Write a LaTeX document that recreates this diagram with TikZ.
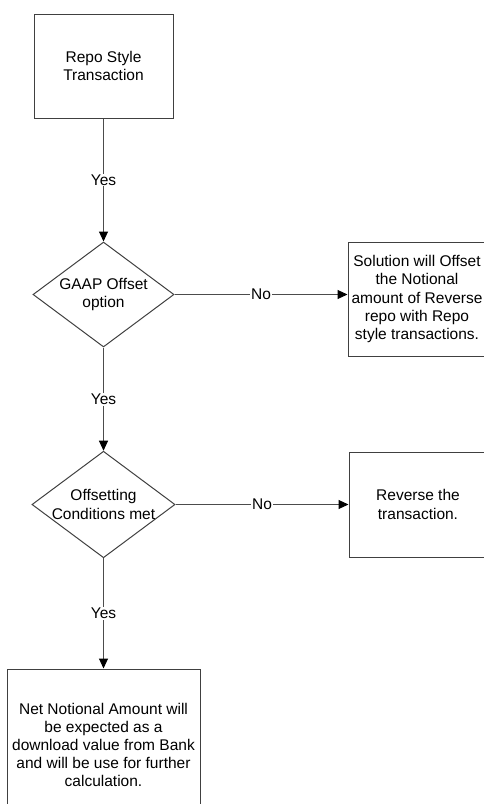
\documentclass[tikz,border=0pt]{standalone}
\usepackage{fontspec}
\setmainfont{Liberation Sans}
\usetikzlibrary{shapes.geometric,arrows.meta}
\begin{document}
\begin{tikzpicture}[x=1pt,y=-1pt,
  every node/.style={font=\fontsize{15.5}{18.2}\selectfont},
  box/.style={draw=black!75, line width=1pt, align=center, inner sep=0pt},
  dec/.style={diamond, draw=black!75, line width=1pt, align=center, inner sep=0pt,
    aspect=1.343, minimum width=141pt, minimum height=105pt},
  conn/.style={draw=black!70, line width=1pt, -{Triangle[length=10pt,width=9pt,black]}},
  lab/.style={fill=white, inner sep=1pt}]
\useasboundingbox (0,0) rectangle (484,804);
\node[box, minimum width=139pt, minimum height=104pt] (start) at (103.5,66) {Repo Style\\Transaction};
\node[dec] (d1) at (103.5,294.5) {GAAP Offset\\option};
\node[box, minimum width=138pt, minimum height=114pt] (sol) at (417,299) {Solution will Offset\\the Notional\\amount of Reverse\\repo with Repo\\style transactions.};
\node[dec] (d2) at (103.5,504.5) {Offsetting\\Conditions met};
\node[box, minimum width=138pt, minimum height=105pt] (rev) at (418,504.5) {Reverse the\\transaction.};
\node[box, minimum width=193pt, minimum height=152pt] (net) at (103.5,745) {Net Notional Amount will\\be expected as a\\download value from Bank\\and will be use for further\\calculation.};
\draw[conn] (start) -- node[lab]{Yes} (d1);
\draw[conn] (d1.east) -- node[lab]{No} (sol.west |- d1.east);
\draw[conn] (d1) -- node[lab]{Yes} (d2);
\draw[conn] (d2.east) -- node[lab]{No} (rev.west |- d2.east);
\draw[conn] (d2) -- node[lab]{Yes} (net);
\end{tikzpicture}
\end{document}
